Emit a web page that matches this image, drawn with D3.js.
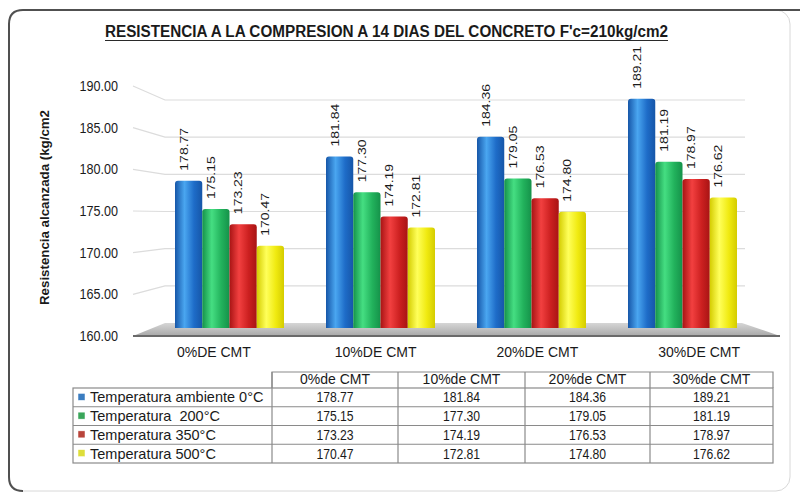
<!DOCTYPE html>
<html>
<head>
<meta charset="utf-8">
<script src="https://cdn.jsdelivr.net/npm/d3@7"></script>
<style>
  html, body { margin: 0; padding: 0; background: #ffffff; }
  svg { display: block; }
  text { font-family: "Liberation Sans", Arial, sans-serif; fill: #1a1a1a; white-space: pre; }
</style>
</head>
<body>
<svg id="chart" width="800" height="495"></svg>
<script>
// ---------- DATA ----------
const title = "RESISTENCIA A LA COMPRESION A 14 DIAS DEL CONCRETO F'c=210kg/cm2";
const yAxisTitle = "Resistencia alcanzada (kg/cm2";
const categories = ["0%DE CMT", "10%DE CMT", "20%DE CMT", "30%DE CMT"];
const tableHeaders = ["0%de CMT", "10%de CMT", "20%de CMT", "30%de CMT"];
const seriesNames = ["Temperatura ambiente 0°C", "Temperatura  200°C", "Temperatura 350°C", "Temperatura 500°C"];
const ambiente = [178.77, 181.84, 184.36, 189.21];
const temp200 = [175.15, 177.30, 179.05, 181.19];
const temp350 = [173.23, 174.19, 176.53, 178.97];
const temp500 = [170.47, 172.81, 174.80, 176.62];
const yTicks = [160, 165, 170, 175, 180, 185, 190];
const yDomain = [160, 190];

const seriesValues = [ambiente, temp200, temp350, temp500];
const palette = [
  { dark: "#1656a8", light: "#4aa6f0", mid: "#1e6cc8", key: "#3b7dc0" },
  { dark: "#15924a", light: "#45de82", mid: "#22b25c", key: "#3aa65a" },
  { dark: "#a81414", light: "#f24040", mid: "#cc2020", key: "#b8443a" },
  { dark: "#d4cc00", light: "#ffff5a", mid: "#f0ea10", key: "#dede3a" }
];

// ---------- SETUP ----------
const svg = d3.select("#chart");
const defs = svg.append("defs");

palette.forEach((p, i) => {
  const g = defs.append("linearGradient").attr("id", "bar" + i)
    .attr("x1", "0%").attr("x2", "100%").attr("y1", "0%").attr("y2", "0%");
  g.append("stop").attr("offset", "0%").attr("stop-color", p.dark);
  g.append("stop").attr("offset", "35%").attr("stop-color", p.light);
  g.append("stop").attr("offset", "70%").attr("stop-color", p.mid);
  g.append("stop").attr("offset", "100%").attr("stop-color", p.dark);
});
const fg = defs.append("linearGradient").attr("id", "floorGrad")
  .attr("x1", "0%").attr("x2", "0%").attr("y1", "0%").attr("y2", "100%");
fg.append("stop").attr("offset", "0%").attr("stop-color", "#d6d6d6");
fg.append("stop").attr("offset", "100%").attr("stop-color", "#a8a8a8");

// outer frame
svg.append("rect").attr("x", 9).attr("y", 10).attr("width", 781).attr("height", 481)
  .attr("rx", 14).attr("fill", "#ffffff").attr("stroke", "#d8d8d8").attr("stroke-width", 1);
svg.append("path")
  .attr("d", "M 23,491 Q 9,491 9,477 L 9,24 Q 9,10 23,10 L 800,10")
  .attr("fill", "none").attr("stroke", "#505050").attr("stroke-width", 2);

// title
svg.append("text")
  .attr("x", 105).attr("y", 37)
  .attr("textLength", 563).attr("lengthAdjust", "spacingAndGlyphs")
  .attr("font-size", 16).attr("font-weight", "bold")
  .attr("fill", "#2a2a2a")
  .text(title);
svg.append("line").attr("x1", 105).attr("x2", 668).attr("y1", 40.5).attr("y2", 40.5)
  .attr("stroke", "#2a2a2a").attr("stroke-width", 1.2);

// ---------- SCALES ----------
const yFront = d3.scaleLinear().domain(yDomain).range([336, 86]);
const yBack = d3.scaleLinear().domain(yDomain).range([323, 100]);
const yBar = d3.scaleLinear().domain(yDomain).range([328, 92.5]);

const xFront = d3.scaleBand().domain(categories).range([133, 780]);
const xGroup = d3.scaleBand().domain(categories).range([154, 758]);
const xSub = d3.scaleBand().domain(d3.range(seriesNames.length)).range([21, 130]);

const backLeft = 165, backRight = 745, frontLeft = 133, frontRight = 780;

// gridlines (perspective: left wall then back wall)
svg.append("g").selectAll("path").data(yTicks.slice(1)).join("path")
  .attr("d", d => `M ${frontLeft},${yFront(d)} L ${backLeft},${yBack(d)} L ${backRight},${yBack(d)}`)
  .attr("fill", "none").attr("stroke", "#dcdcdc").attr("stroke-width", 1.2);

// floor
svg.append("path")
  .attr("d", `M ${frontLeft},${yFront(160)} L ${backLeft},${yBack(160)} L ${backRight - 3},${yBack(160)} L ${frontRight},${yFront(160)} Z`)
  .attr("fill", "url(#floorGrad)");
svg.append("line")
  .attr("x1", frontLeft).attr("x2", frontRight)
  .attr("y1", yFront(160)).attr("y2", yFront(160))
  .attr("stroke", "#6a6a6a").attr("stroke-width", 2);

// y tick labels
const tickSx = 0.9;
svg.append("g").selectAll("text").data(yTicks).join("text")
  .attr("transform", d => `translate(118,${yFront(d) + 5}) scale(${tickSx},1)`)
  .attr("text-anchor", "end").attr("font-size", 14).attr("fill", "#333")
  .text(d => d3.format(".2f")(d));

// y axis title
svg.append("text")
  .attr("transform", `translate(49,305) rotate(-90)`)
  .attr("textLength", 195).attr("lengthAdjust", "spacingAndGlyphs")
  .attr("font-size", 12.5).attr("font-weight", "bold")
  .attr("fill", "#222")
  .text(yAxisTitle);

// bars
const barData = [];
categories.forEach((c, ci) => {
  seriesValues.forEach((vals, si) => barData.push({ c, ci, si, v: vals[ci] }));
});
const bw = xSub.bandwidth();
const bars = svg.append("g");
bars.selectAll("path").data(barData).join("path")
  .attr("d", d => {
    const x0 = xGroup(d.c) + xSub(d.si), x1 = x0 + bw;
    const yt = yBar(d.v), yb = yBar(160), r = 3;
    return `M ${x0},${yb} L ${x0},${yt + r} Q ${x0},${yt} ${x0 + r},${yt} L ${x1 - r},${yt} Q ${x1},${yt} ${x1},${yt + r} L ${x1},${yb} Z`;
  })
  .attr("fill", d => `url(#bar${d.si})`);

// value labels
const lblSx = 0.8;
svg.append("g").selectAll("text").data(barData).join("text")
  .attr("transform", d => {
    const cx = xGroup(d.c) + xSub(d.si) + bw / 2 - 1;
    return `translate(${cx},${yBar(d.v) - 10}) scale(${lblSx},1) rotate(-90)`;
  })
  .attr("font-size", 14).attr("fill", "#222")
  .text(d => d3.format(".2f")(d.v));

// category labels
svg.append("g").selectAll("text").data(categories).join("text")
  .attr("x", d => xFront(d) + xFront.bandwidth() / 2)
  .attr("y", 357)
  .attr("text-anchor", "middle").attr("font-size", 14).attr("fill", "#222")
  .text(d => d);

// ---------- DATA TABLE ----------
const tLeft = 73, tRight = 773, colEdges = [272, 398, 525, 650, 773];
const headTop = 372, headBottom = 388;
const rowY = d3.scaleBand().domain(d3.range(seriesNames.length)).range([388, 463]);
const tbl = svg.append("g");
const lineColor = "#8a8a8a";

// header border
tbl.append("path")
  .attr("d", `M ${colEdges[0]},${headBottom} L ${colEdges[0]},${headTop} L ${tRight},${headTop} L ${tRight},${headBottom}`)
  .attr("fill", "none").attr("stroke", lineColor).attr("stroke-width", 1.2);
// body outer + row lines
tbl.append("rect").attr("x", tLeft).attr("y", headBottom)
  .attr("width", tRight - tLeft).attr("height", 463 - headBottom)
  .attr("fill", "none").attr("stroke", lineColor).attr("stroke-width", 1.2);
tbl.selectAll("line.row").data(d3.range(1, seriesNames.length)).join("line")
  .attr("class", "row")
  .attr("x1", tLeft).attr("x2", tRight)
  .attr("y1", d => rowY(d)).attr("y2", d => rowY(d))
  .attr("stroke", lineColor).attr("stroke-width", 1.2);
tbl.selectAll("line.col").data(colEdges.slice(0, 4)).join("line")
  .attr("class", "col")
  .attr("x1", d => d).attr("x2", d => d)
  .attr("y1", headTop).attr("y2", 463)
  .attr("stroke", lineColor).attr("stroke-width", 1.2);

// header text
tbl.selectAll("text.head").data(tableHeaders).join("text")
  .attr("class", "head")
  .attr("x", (d, i) => (colEdges[i] + colEdges[i + 1]) / 2)
  .attr("y", headBottom - 4)
  .attr("text-anchor", "middle").attr("font-size", 14).attr("fill", "#333")
  .text(d => d);

// legend keys + names
seriesNames.forEach((name, si) => {
  const cy = rowY(si) + rowY.bandwidth() / 2;
  tbl.append("rect").attr("x", 78).attr("y", cy - 4).attr("width", 7).attr("height", 7)
    .attr("fill", palette[si].key).attr("stroke", "#ffffff").attr("stroke-width", 0.5);
  tbl.append("text").attr("x", 90).attr("y", cy + 5)
    .attr("font-size", 14.5).attr("fill", "#222")
    .text(name);
  seriesValues[si].forEach((v, ci) => {
    tbl.append("text")
      .attr("transform", `translate(${(colEdges[ci] + colEdges[ci + 1]) / 2},${cy + 5}) scale(0.87,1)`)
      .attr("text-anchor", "middle").attr("font-size", 14).attr("fill", "#222")
      .text(d3.format(".2f")(v));
  });
});
</script>
</body>
</html>
